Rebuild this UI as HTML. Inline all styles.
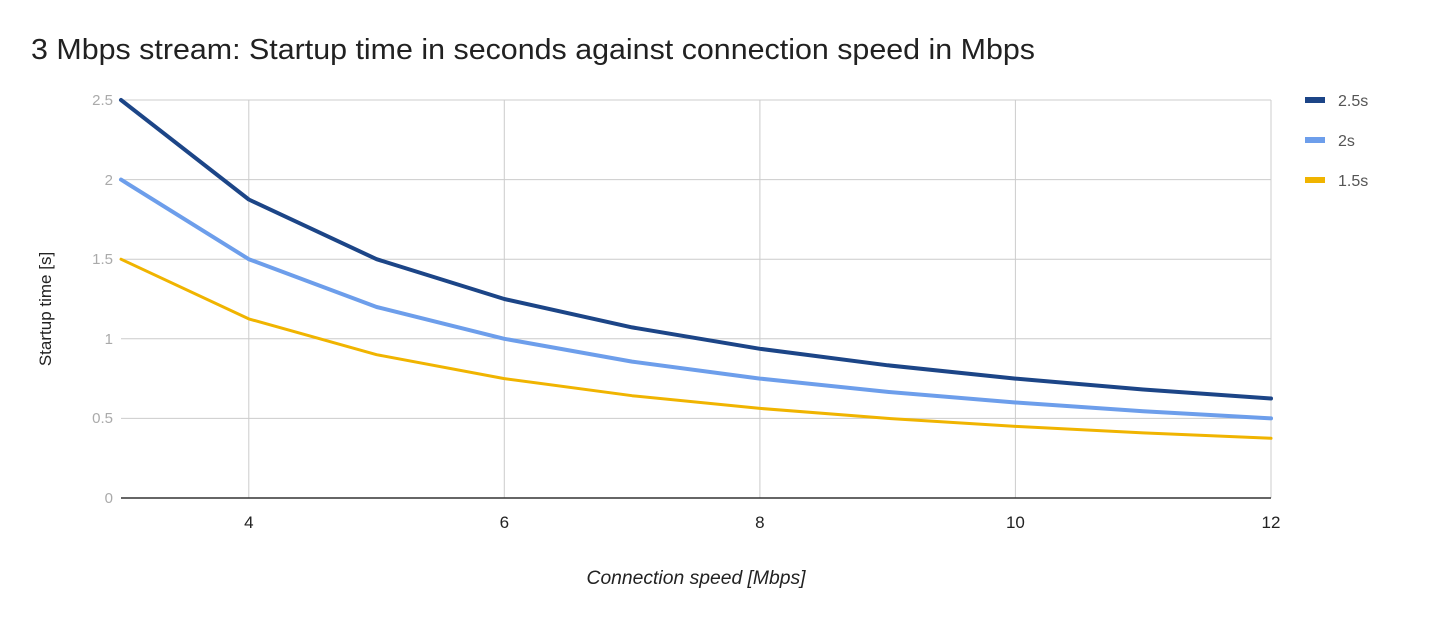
<!DOCTYPE html>
<html><head><meta charset="utf-8"><style>
body{margin:0;background:#fff;}
svg{display:block;font-family:"Liberation Sans",sans-serif;}
</style></head><body>
<svg width="1440" height="620" viewBox="0 0 1440 620">
<text x="31" y="59" font-size="29" fill="#212121" textLength="1004" lengthAdjust="spacingAndGlyphs">3 Mbps stream: Startup time in seconds against connection speed in Mbps</text>
<g stroke="#cccccc" stroke-width="1">
<line x1="121" y1="100" x2="1271" y2="100"/>
<line x1="121" y1="179.6" x2="1271" y2="179.6"/>
<line x1="121" y1="259.2" x2="1271" y2="259.2"/>
<line x1="121" y1="338.8" x2="1271" y2="338.8"/>
<line x1="121" y1="418.4" x2="1271" y2="418.4"/>
<line x1="248.8" y1="100" x2="248.8" y2="498"/>
<line x1="504.3" y1="100" x2="504.3" y2="498"/>
<line x1="759.9" y1="100" x2="759.9" y2="498"/>
<line x1="1015.4" y1="100" x2="1015.4" y2="498"/>
<line x1="1271" y1="100" x2="1271" y2="498"/>
</g>
<line x1="121" y1="498" x2="1271" y2="498" stroke="#333" stroke-width="1.5"/>
<g font-size="15" fill="#aaaaaa" text-anchor="end">
<text x="113" y="105">2.5</text><text x="113" y="185">2</text><text x="113" y="264">1.5</text>
<text x="113" y="344">1</text><text x="113" y="423">0.5</text><text x="113" y="503">0</text>
</g>
<g font-size="17" fill="#222" text-anchor="middle">
<text x="248.8" y="528">4</text><text x="504.3" y="528">6</text><text x="759.9" y="528">8</text>
<text x="1015.4" y="528">10</text><text x="1271" y="528">12</text>
</g>
<text x="696" y="584" font-size="19" font-style="italic" fill="#222" text-anchor="middle" textLength="219" lengthAdjust="spacingAndGlyphs">Connection speed [Mbps]</text>
<text transform="translate(51,309) rotate(-90)" font-size="17" fill="#222" text-anchor="middle">Startup time [s]</text>
<g fill="none" stroke-linejoin="round" stroke-linecap="round">
<polyline stroke="#f0b400" stroke-width="3" points="121,259.2 248.8,318.9 376.6,354.7 504.3,378.6 632.1,395.7 759.9,408.4 887.7,418.4 1015.4,426.4 1143.2,432.9 1271,438.3"/>
<polyline stroke="#6d9eeb" stroke-width="4" points="121,179.6 248.8,259.2 376.6,307 504.3,338.8 632.1,361.6 759.9,378.6 887.7,391.9 1015.4,402.5 1143.2,411.2 1271,418.4"/>
<polyline stroke="#1c4587" stroke-width="4" points="121,100 248.8,199.5 376.6,259.2 504.3,299 632.1,327.4 759.9,348.8 887.7,365.3 1015.4,378.6 1143.2,389.5 1271,398.5"/>
</g>
<rect x="1305" y="97" width="20" height="6" fill="#1c4587"/>
<rect x="1305" y="137" width="20" height="6" fill="#6d9eeb"/>
<rect x="1305" y="177" width="20" height="6" fill="#f0b400"/>
<g font-size="16" fill="#555">
<text x="1338" y="106">2.5s</text><text x="1338" y="146">2s</text><text x="1338" y="186">1.5s</text>
</g>
</svg>
</body></html>
